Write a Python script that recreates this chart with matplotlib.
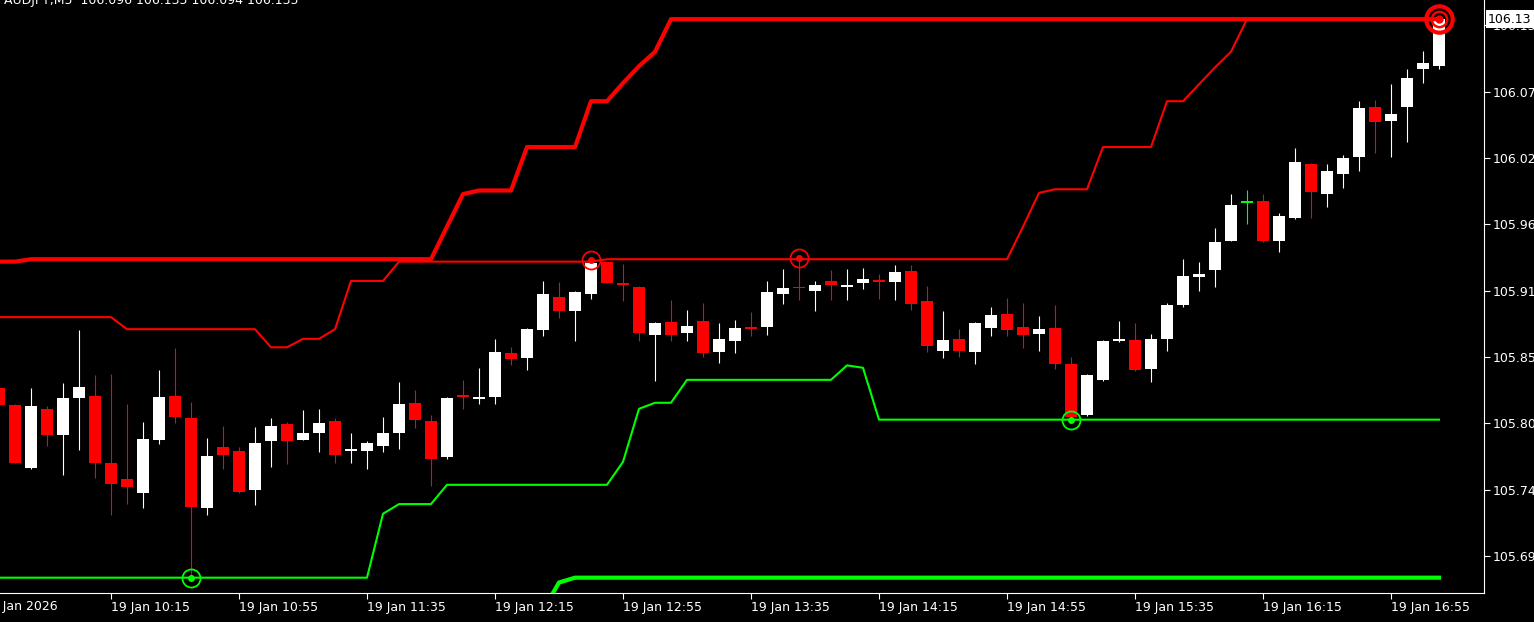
import matplotlib
matplotlib.use('Agg')
import matplotlib.pyplot as plt
import numpy as np
import pandas as pd
from matplotlib.transforms import blended_transform_factory

# AUDJPY M5 bars, 19 Jan 2026 09:40 .. 17:10
opens = [105.829, 105.815, 105.763, 105.812, 105.790, 105.821, 105.823, 105.767, 105.754, 105.742,
         105.786, 105.823, 105.804, 105.730, 105.780, 105.777, 105.745, 105.785, 105.799, 105.786,
         105.792, 105.802, 105.777, 105.777, 105.781, 105.792, 105.817, 105.802, 105.772, 105.823,
         105.820, 105.822, 105.858, 105.854, 105.877, 105.905, 105.893, 105.907, 105.934, 105.916,
         105.913, 105.873, 105.884, 105.875, 105.885, 105.859, 105.868, 105.880, 105.880, 105.907,
         105.913, 105.910, 105.918, 105.913, 105.916, 105.919, 105.917, 105.926, 105.901, 105.860,
         105.870, 105.859, 105.879, 105.891, 105.880, 105.874, 105.879, 105.849, 105.807, 105.836,
         105.868, 105.869, 105.845, 105.870, 105.898, 105.921, 105.927, 105.951, 105.983, 105.984,
         105.951, 105.970, 106.015, 105.990, 106.007, 106.021, 106.062, 106.051, 106.062, 106.094,
         106.096]
highs = [105.832, 105.816, 105.829, 105.814, 105.833, 105.877, 105.840, 105.841, 105.816, 105.801,
         105.844, 105.862, 105.818, 105.788, 105.798, 105.780, 105.797, 105.804, 105.801, 105.811,
         105.812, 105.804, 105.792, 105.785, 105.805, 105.834, 105.828, 105.807, 105.822, 105.836,
         105.846, 105.870, 105.863, 105.879, 105.918, 105.917, 105.910, 105.935, 105.934, 105.932,
         105.914, 105.884, 105.902, 105.894, 105.900, 105.883, 105.886, 105.892, 105.918, 105.928,
         105.937, 105.918, 105.927, 105.928, 105.929, 105.924, 105.931, 105.931, 105.914, 105.893,
         105.878, 105.884, 105.896, 105.904, 105.900, 105.889, 105.898, 105.855, 105.841, 105.869,
         105.885, 105.883, 105.874, 105.900, 105.936, 105.934, 105.962, 105.990, 105.993, 105.990,
         105.974, 106.028, 106.016, 106.015, 106.022, 106.067, 106.068, 106.081, 106.094, 106.109,
         106.135]
lows = [105.813, 105.767, 105.762, 105.781, 105.757, 105.778, 105.755, 105.724, 105.733, 105.730,
        105.783, 105.800, 105.672, 105.724, 105.762, 105.742, 105.732, 105.764, 105.766, 105.786,
        105.776, 105.767, 105.767, 105.762, 105.776, 105.779, 105.796, 105.748, 105.770, 105.812,
        105.816, 105.816, 105.848, 105.844, 105.872, 105.887, 105.868, 105.903, 105.916, 105.901,
        105.868, 105.835, 105.868, 105.868, 105.855, 105.850, 105.858, 105.872, 105.873, 105.899,
        105.902, 105.893, 105.902, 105.902, 105.911, 105.903, 105.902, 105.894, 105.859, 105.854,
        105.855, 105.849, 105.872, 105.872, 105.862, 105.860, 105.845, 105.803, 105.806, 105.835,
        105.867, 105.843, 105.834, 105.860, 105.896, 105.910, 105.913, 105.951, 105.965, 105.950,
        105.942, 105.969, 105.970, 105.979, 105.995, 106.009, 106.024, 106.021, 106.033, 106.082,
        106.094]
closes = [105.815, 105.767, 105.814, 105.790, 105.821, 105.830, 105.767, 105.750, 105.747, 105.787,
          105.822, 105.805, 105.731, 105.773, 105.774, 105.743, 105.784, 105.798, 105.785, 105.792,
          105.800, 105.774, 105.779, 105.784, 105.792, 105.816, 105.803, 105.770, 105.821, 105.822,
          105.822, 105.859, 105.853, 105.878, 105.907, 105.893, 105.909, 105.933, 105.916, 105.915,
          105.875, 105.883, 105.873, 105.881, 105.858, 105.870, 105.879, 105.878, 105.909, 105.912,
          105.912, 105.915, 105.915, 105.915, 105.920, 105.917, 105.925, 105.899, 105.864, 105.869,
          105.860, 105.883, 105.890, 105.877, 105.873, 105.878, 105.849, 105.805, 105.840, 105.868,
          105.870, 105.844, 105.870, 105.898, 105.922, 105.924, 105.950, 105.981, 105.983, 105.951,
          105.972, 106.017, 105.992, 106.009, 106.020, 106.061, 106.050, 106.056, 106.086, 106.099,
          106.135]

# channel lines, one value per bar
upper_slow = [105.934, 105.934, 105.936, 105.936, 105.936, 105.936, 105.936, 105.936, 105.936, 105.936,
              105.936, 105.936, 105.936, 105.936, 105.936, 105.936, 105.936, 105.936, 105.936, 105.936,
              105.936, 105.936, 105.936, 105.936, 105.936, 105.936, 105.936, 105.936, 105.963, 105.990,
              105.993, 105.993, 105.993, 106.029, 106.029, 106.029, 106.029, 106.067, 106.067, 106.082,
              106.096, 106.108, 106.135, 106.135, 106.135, 106.135, 106.135, 106.135, 106.135, 106.135,
              106.135, 106.135, 106.135, 106.135, 106.135, 106.135, 106.135, 106.135, 106.135, 106.135,
              106.135, 106.135, 106.135, 106.135, 106.135, 106.135, 106.135, 106.135, 106.135, 106.135,
              106.135, 106.135, 106.135, 106.135, 106.135, 106.135, 106.135, 106.135, 106.135, 106.135,
              106.135, 106.135, 106.135, 106.135, 106.135, 106.135, 106.135, 106.135, 106.135, 106.135,
              106.135]
upper_fast = [105.888, 105.888, 105.888, 105.888, 105.888, 105.888, 105.888, 105.888, 105.878, 105.878,
              105.878, 105.878, 105.878, 105.878, 105.878, 105.878, 105.878, 105.863, 105.863, 105.870,
              105.870, 105.878, 105.918, 105.918, 105.918, 105.934, 105.934, 105.934, 105.934, 105.934,
              105.934, 105.934, 105.934, 105.934, 105.934, 105.934, 105.934, 105.934, 105.936, 105.936,
              105.936, 105.936, 105.936, 105.936, 105.936, 105.936, 105.936, 105.936, 105.936, 105.936,
              105.936, 105.936, 105.936, 105.936, 105.936, 105.936, 105.936, 105.936, 105.936, 105.936,
              105.936, 105.936, 105.936, 105.936, 105.963, 105.991, 105.994, 105.994, 105.994, 106.029,
              106.029, 106.029, 106.029, 106.067, 106.067, 106.081, 106.095, 106.108, 106.135, 106.135,
              106.135, 106.135, 106.135, 106.135, 106.135, 106.135, 106.135, 106.135, 106.135, 106.135,
              106.135]
lower_fast = [105.672, 105.672, 105.672, 105.672, 105.672, 105.672, 105.672, 105.672, 105.672, 105.672,
              105.672, 105.672, 105.672, 105.672, 105.672, 105.672, 105.672, 105.672, 105.672, 105.672,
              105.672, 105.672, 105.672, 105.672, 105.725, 105.733, 105.733, 105.733, 105.749, 105.749,
              105.749, 105.749, 105.749, 105.749, 105.749, 105.749, 105.749, 105.749, 105.749, 105.768,
              105.812, 105.817, 105.817, 105.836, 105.836, 105.836, 105.836, 105.836, 105.836, 105.836,
              105.836, 105.836, 105.836, 105.848, 105.846, 105.803, 105.803, 105.803, 105.803, 105.803,
              105.803, 105.803, 105.803, 105.803, 105.803, 105.803, 105.803, 105.803, 105.803, 105.803,
              105.803, 105.803, 105.803, 105.803, 105.803, 105.803, 105.803, 105.803, 105.803, 105.803,
              105.803, 105.803, 105.803, 105.803, 105.803, 105.803, 105.803, 105.803, 105.803, 105.803,
              105.803]
nan = np.nan
lower_slow = [nan, nan, nan, nan, nan, nan, nan, nan, nan, nan,
              nan, nan, nan, nan, nan, nan, nan, nan, nan, nan,
              nan, nan, nan, nan, nan, nan, nan, nan, nan, nan,
              nan, nan, nan, 105.620, 105.645, 105.668, 105.672, 105.672, 105.672, 105.672,
              105.672, 105.672, 105.672, 105.672, 105.672, 105.672, 105.672, 105.672, 105.672, 105.672,
              105.672, 105.672, 105.672, 105.672, 105.672, 105.672, 105.672, 105.672, 105.672, 105.672,
              105.672, 105.672, 105.672, 105.672, 105.672, 105.672, 105.672, 105.672, 105.672, 105.672,
              105.672, 105.672, 105.672, 105.672, 105.672, 105.672, 105.672, 105.672, 105.672, 105.672,
              105.672, 105.672, 105.672, 105.672, 105.672, 105.672, 105.672, 105.672, 105.672, 105.672,
              105.672]

# bars with swing markers (index into the lists above)
high_marks = [37, 50]
low_marks = [12, 67]
last_mark = 90

xtick_times = ['10:15', '10:55', '11:35', '12:15', '12:55', '13:35',
               '14:15', '14:55', '15:35', '16:15', '16:55']
ytick_vals = [105.69, 105.745, 105.80, 105.855, 105.91, 105.965, 106.02, 106.075, 106.13]
ytick_labels = ['105.69', '105.74', '105.80', '105.85', '105.91', '105.96',
                '106.02', '106.07', '106.13']

times = pd.date_range('2026-01-19 09:40', periods=len(opens), freq='5min')
x = np.arange(len(opens)) - 1

o = np.array(opens)
c = np.array(closes)
cols = np.where(c > o, 'white', np.where(c < o, '#ff0000', '#00ff00'))

fig = plt.figure(figsize=(15.34, 6.22), dpi=100, facecolor='black')
ax = fig.add_axes([0, 29 / 622, 1484 / 1534, 593 / 622], facecolor='black')

# candles
ax.vlines(x, lows, highs, colors=cols, lw=0.8, zorder=2)
body = np.maximum(np.abs(c - o), 0.0013)
ax.bar(x, body, bottom=np.minimum(o, c), width=0.69, color=cols, linewidth=0, zorder=2)

# channel lines
ax.plot(x, upper_slow, color='#ff0000', lw=3.0, zorder=3)
ax.plot(x, upper_fast, color='#ff0000', lw=1.5, zorder=3)
ax.plot(x, lower_slow, color='#00ff00', lw=3.0, zorder=3)
ax.plot(x, lower_fast, color='#00ff00', lw=1.5, zorder=3)

# swing markers
for i in high_marks:
    ax.plot(x[i], highs[i], 'o', ms=13, mfc='none', mec='#ff0000', mew=1.3, zorder=4)
    ax.plot(x[i], highs[i], 'o', ms=4, color='#ff0000', zorder=4)
for i in low_marks:
    ax.plot(x[i], lows[i], 'o', ms=13, mfc='none', mec='#00ff00', mew=1.3, zorder=4)
    ax.plot(x[i], lows[i], 'o', ms=4, color='#00ff00', zorder=4)
ax.plot(x[last_mark], highs[last_mark], 'o', ms=19, mfc='none', mec='#ff0000', mew=3, zorder=4)
ax.plot(x[last_mark], highs[last_mark], 'o', ms=11, mfc='none', mec='#ff0000', mew=1.8, zorder=4)
ax.plot(x[last_mark], highs[last_mark], 'o', ms=5, color='#ff0000', zorder=4)

ax.set_xlim(-0.9375, 91.8125)
ax.set_ylim(105.6593, 106.1509)

for s in ['top', 'left']:
    ax.spines[s].set_visible(False)
for s in ['right', 'bottom']:
    ax.spines[s].set_color('white')
    ax.spines[s].set_linewidth(0.8)

labels = [t.strftime('%H:%M') for t in times]
xt = [x[labels.index(t)] for t in xtick_times]
ax.set_xticks(xt, ['19 Jan ' + t for t in xtick_times])
for lbl in ax.get_xticklabels():
    lbl.set_horizontalalignment('left')
ax.tick_params(axis='x', colors='white', length=4, width=0.8, pad=2, labelsize=9)

ax.yaxis.tick_right()
ax.set_yticks(ytick_vals, ytick_labels)
ax.tick_params(axis='y', colors='white', length=4, width=0.8, pad=2, labelsize=9)

# day label that falls off the left edge
ax.text(x[0] - 1, -0.022, '19 Jan 2026', transform=ax.get_xaxis_transform(),
        color='white', fontsize=9, ha='left', va='center', clip_on=False)

# current price box
tr = blended_transform_factory(ax.transAxes, ax.transData)
ax.text(1 + 4 / 1484, closes[-1], '106.13', transform=tr, color='black', fontsize=9,
        ha='left', va='center', clip_on=False, zorder=10,
        bbox=dict(boxstyle='square,pad=0.2', fc='white', ec='none'))

fig.text(4 / 1534, 1 - 4 / 622, 'AUDJPY,M5  106.096 106.135 106.094 106.135',
         color='white', fontsize=9, ha='left', va='baseline')

fig.savefig('out.png', dpi=100, facecolor='black')
